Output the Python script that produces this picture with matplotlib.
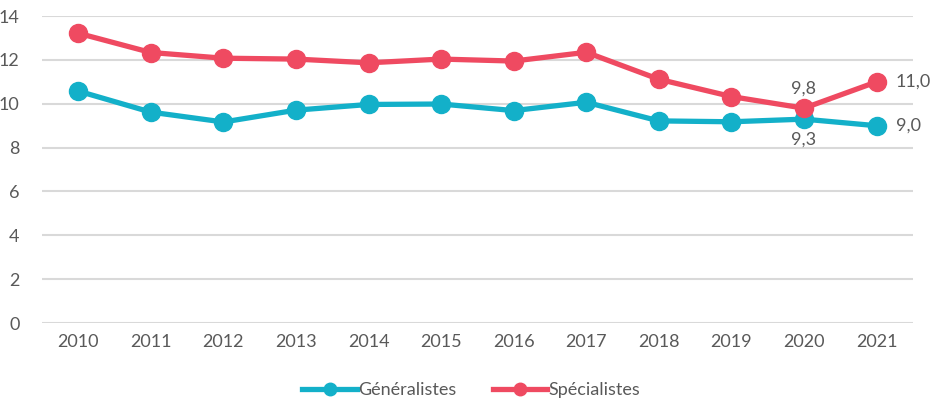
import matplotlib
matplotlib.use("Agg")
import matplotlib.pyplot as plt
from matplotlib.lines import Line2D

years = ["2010", "2011", "2012", "2013", "2014", "2015", "2016", "2017", "2018", "2019", "2020", "2021"]
generalistes = [10.58, 9.62, 9.17, 9.71, 9.97, 9.99, 9.69, 10.07, 9.22, 9.18, 9.3, 9.0]
specialistes = [13.22, 12.34, 12.08, 12.04, 11.87, 12.04, 11.95, 12.35, 11.12, 10.33, 9.8, 11.0]
yticks = [0, 2, 4, 6, 8, 10, 12, 14]

plt.rcParams['font.family'] = ['Lato', 'DejaVu Sans']
TEAL = "#13b0c9"
RED = "#ef4a61"
TXT = "#595959"
FS = 13

fig = plt.figure(figsize=(9.43, 4.03), dpi=100)
ax = fig.add_axes([0.0445, 0.1985, 0.9235, 0.7615])
x = list(range(len(years)))
ax.plot(x, generalistes, color=TEAL, lw=3.8, marker='o', ms=13, label="Généralistes", zorder=3)
ax.plot(x, specialistes, color=RED, lw=3.8, marker='o', ms=13, label="Spécialistes", zorder=4)

ax.set_xlim(-0.5, len(years) - 0.5)
ax.set_ylim(0, 14)
ax.set_yticks(yticks)
ax.set_xticks(x)
ax.set_xticklabels(years)
ax.grid(axis='y', color='#d9d9d9', lw=1.5)
ax.set_axisbelow(True)
for s in ax.spines.values():
    s.set_visible(False)
ax.tick_params(length=0, labelsize=FS, labelcolor=TXT, pad=8)
ax.tick_params(axis='y', pad=16)

def fmt(v):
    return f"{v:.1f}".replace('.', ',')

ax.annotate(fmt(specialistes[-1]), (x[-1], specialistes[-1]), xytext=(14, 0), textcoords='offset points',
            ha='left', va='center', fontsize=FS, color=TXT)
ax.annotate(fmt(generalistes[-1]), (x[-1], generalistes[-1]), xytext=(14, 0), textcoords='offset points',
            ha='left', va='center', fontsize=FS, color=TXT)
ax.annotate(fmt(specialistes[-2]), (x[-2], specialistes[-2]), xytext=(0, 8), textcoords='offset points',
            ha='center', va='bottom', fontsize=FS, color=TXT)
ax.annotate(fmt(generalistes[-2]), (x[-2], generalistes[-2]), xytext=(0, -9), textcoords='offset points',
            ha='center', va='top', fontsize=FS, color=TXT)

handles = [Line2D([], [], color=TEAL, lw=3.8, marker='o', ms=9),
           Line2D([], [], color=RED, lw=3.8, marker='o', ms=9)]
leg = fig.legend(handles, ["Généralistes", "Spécialistes"], loc='center', bbox_to_anchor=(0.5, 0.032),
                 ncol=2, frameon=False, fontsize=FS, handlelength=3.0, handletextpad=0.1, columnspacing=2.0)
for t in leg.get_texts():
    t.set_color(TXT)

fig.savefig("out.png", dpi=100)
